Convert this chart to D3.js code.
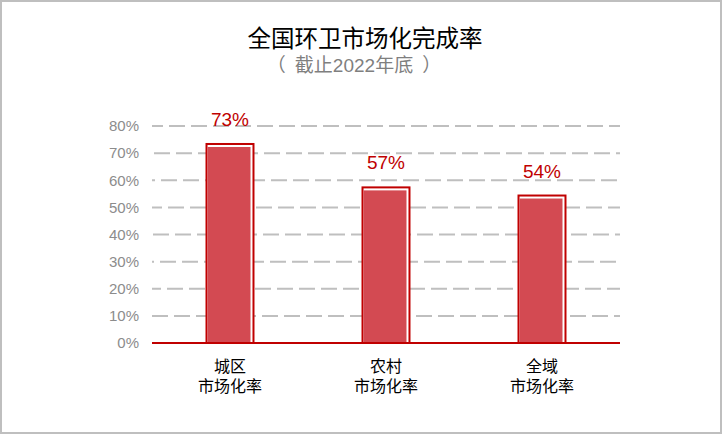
<!DOCTYPE html>
<html lang="zh-CN">
<head>
<meta charset="utf-8">
<script src="https://cdn.jsdelivr.net/npm/d3@7"></script>
<style>
  html, body { margin: 0; padding: 0; background: #fff; }
  svg text { font-family: "Noto Sans CJK SC", "Liberation Sans", sans-serif; }
  .tick-label { font-family: "Liberation Sans", Arial, sans-serif !important; }
</style>
</head>
<body>
<div id="chart"></div>
<script>
const categories = [["城区", "市场化率"], ["农村", "市场化率"], ["全域", "市场化率"]];
const values = [73, 57, 54];
const yTicks = [0, 10, 20, 30, 40, 50, 60, 70, 80];
const titleText = "全国环卫市场化完成率";
const subtitleParts = ["（", "截止", "2022", "年底", "）"];

(function () {
    const width = 722, height = 434;
    const margin = { left: 152, right: 102, top: 126, bottom: 91 };

    const svg = d3.select("#chart").append("svg")
        .attr("width", width).attr("height", height);

    // outer frame
    svg.append("rect")
        .attr("x", 1).attr("y", 1)
        .attr("width", width - 2).attr("height", height - 2)
        .attr("fill", "#fff").attr("stroke", "#BFBFBF").attr("stroke-width", 2);

    // ── TITLES ──
    svg.append("text")
        .attr("x", 365).attr("y", 47)
        .attr("text-anchor", "middle")
        .attr("font-size", 23.5).attr("fill", "#000")
        .text(titleText);

    // subtitle: full-width brackets (browser trims them, so pad back), Latin digits
    const sub = svg.append("text")
        .attr("x", 354).attr("y", 72)
        .attr("text-anchor", "middle")
        .attr("font-size", 19).attr("fill", "#7F7F7F");
    subtitleParts.forEach((p, i) => {
        const ts = sub.append("tspan").text(p);
        if (i === 1) ts.attr("dx", 9);
        if (i === 2) ts.attr("font-family", "Liberation Sans, Arial, sans-serif");
        if (i === 4) ts.attr("dx", 9);
    });

    // ── SCALES ──
    const x = d3.scaleBand()
        .domain(categories.map((d, i) => i))
        .range([margin.left, width - margin.right])
        .paddingInner(0.686).paddingOuter(0.343);

    const y = d3.scaleLinear()
        .domain([0, 80])
        .range([height - margin.bottom, margin.top]);

    // ── GRID ──
    svg.append("g").selectAll("line")
        .data(yTicks.filter(t => t > 0))
        .enter().append("line")
        .attr("x1", margin.left).attr("x2", width - margin.right)
        .attr("y1", d => y(d)).attr("y2", d => y(d))
        .attr("stroke", "#BFBFBF").attr("stroke-width", 2)
        .attr("stroke-dasharray", "16,6")
        .attr("stroke-dashoffset", (d, i) => (i * 7) % 22);

    // ── Y AXIS LABELS ──
    const yAxis = d3.axisLeft(y).tickValues(yTicks)
        .tickFormat(d => d + "%").tickSize(0).tickPadding(0);
    const ya = svg.append("g")
        .attr("transform", `translate(${margin.left - 13},0)`)
        .call(yAxis);
    ya.select(".domain").remove();
    ya.selectAll("text")
        .attr("class", "tick-label")
        .attr("font-size", 15).attr("fill", "#8C8C8C");

    // ── BARS ──
    const bars = svg.append("g").selectAll("g")
        .data(values).enter().append("g");

    // outline frame (dark red) with white gap
    bars.append("rect")
        .attr("x", (d, i) => x(i) + 1)
        .attr("y", d => y(d) - 1)
        .attr("width", x.bandwidth() - 2)
        .attr("height", d => y(0) - y(d) + 1)
        .attr("fill", "#fff")
        .attr("stroke", "#C00000").attr("stroke-width", 2);

    bars.append("rect")
        .attr("x", (d, i) => x(i) + 2)
        .attr("y", d => y(d) + 2)
        .attr("width", x.bandwidth() - 6)
        .attr("height", d => y(0) - y(d) - 2)
        .attr("fill", "#D34A52");

    // value labels
    bars.append("text")
        .attr("x", (d, i) => x(i) + x.bandwidth() / 2)
        .attr("y", d => y(d) - 19)
        .attr("text-anchor", "middle")
        .attr("class", "tick-label")
        .attr("font-size", 19).attr("fill", "#C00000")
        .text(d => d + "%");

    // ── X AXIS ──
    svg.append("line")
        .attr("x1", margin.left).attr("x2", width - margin.right)
        .attr("y1", y(0)).attr("y2", y(0))
        .attr("stroke", "#C00000").attr("stroke-width", 2);

    const labelG = svg.append("g");
    categories.forEach((d, i) => {
        d.forEach((line, j) => {
            labelG.append("text")
                .attr("x", x(i) + x.bandwidth() / 2)
                .attr("y", y(0) + 29 + j * 20)
                .attr("text-anchor", "middle")
                .attr("font-size", 16).attr("fill", "#000")
                .text(line);
        });
    });
})();
</script>
</body>
</html>
